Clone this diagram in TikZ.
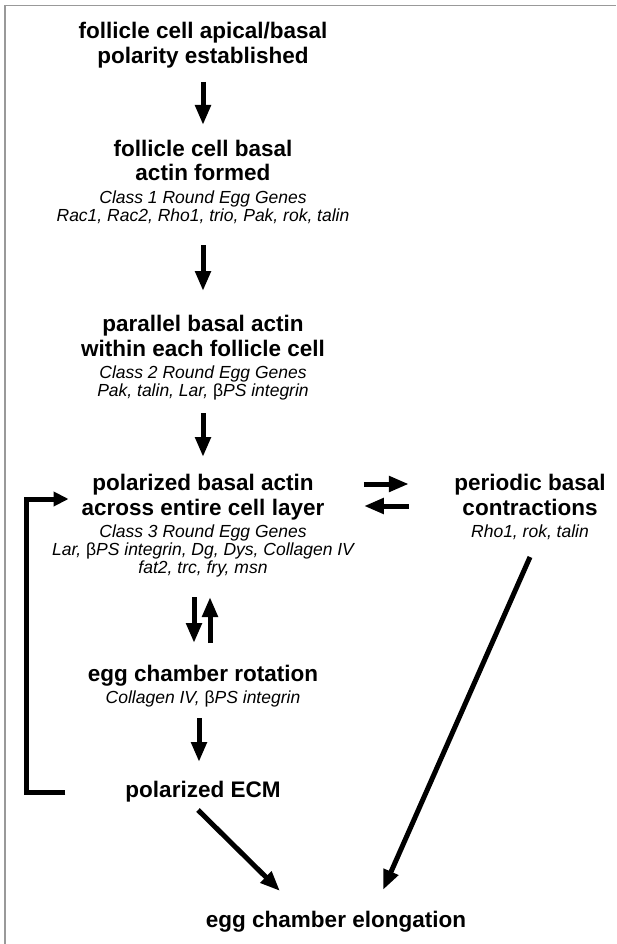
\documentclass[tikz,border=0pt]{standalone}
\usepackage{fontspec}
\setmainfont{Liberation Sans}
\usetikzlibrary{arrows.meta}
\newcommand{\gn}[1]{{\mdseries\itshape\fontsize{17.5}{18}\selectfont\strut #1}}
\newcommand{\tl}[1]{\strut #1}
\newcommand{\bet}{{\upshape β}}
\begin{document}
\begin{tikzpicture}[x=1pt,y=-1pt,
  title/.style={inner sep=0pt, outer sep=0pt, align=center, anchor=north,
    font=\fontsize{22.5}{25}\selectfont\bfseries},
  arr/.style={line width=5pt, -{Triangle[length=20pt,width=15pt]}},
  fb/.style={line width=5pt, -{Triangle[length=15pt,width=14pt]}},
  frame/.style={draw=black!40, line width=1.2pt}]
\useasboundingbox (0,0) rectangle (616,944);
\draw[frame] (5,944) -- (5,5.5) -- (616,5.5);

\node[title] (t1) at (203,21.5) {\tl{follicle cell apical/basal}\\\tl{polarity established}};
\node[title] (t2) at (203,138.5) {\tl{follicle cell basal}\\\tl{actin formed}\\[-3pt]
  \gn{Class 1 Round Egg Genes}\\[-7pt]\gn{Rac1, Rac2, Rho1, trio, Pak, rok, talin}};
\node[title] (t3) at (203,313.5) {\tl{parallel basal actin}\\\tl{within each follicle cell}\\[-3pt]
  \gn{Class 2 Round Egg Genes}\\[-7pt]\gn{Pak, talin, Lar, \bet PS integrin}};
\node[title] (t4) at (203,472.5) {\tl{polarized basal actin}\\\tl{across entire cell layer}\\[-3pt]
  \gn{Class 3 Round Egg Genes}\\[-7pt]\gn{Lar, \bet PS integrin, Dg, Dys, Collagen IV}\\[-7pt]
  \gn{fat2, trc, fry, msn}};
\node[title] (t6) at (530,472.5) {\tl{periodic basal}\\\tl{contractions}\\[-3pt]\gn{Rho1, rok, talin}};
\node[title] (t5) at (203,663.5) {\tl{egg chamber rotation}\\[-3pt]\gn{Collagen IV, \bet PS integrin}};
\node[title] (t7) at (203,779.5) {\tl{polarized ECM}};
\node[title] (t8) at (336,909.5) {\tl{egg chamber elongation}};

\draw[arr, shorten <=10.5pt, shorten >=13.5pt] (t1) -- (t2);
\draw[arr, shorten <=18.6pt, shorten >=22.5pt] (t2) -- (t3);
\draw[arr, shorten <=11.6pt, shorten >=15.5pt] (t3) -- (t4);
\draw[arr, shorten <=18.6pt, shorten >=20.5pt] ([xshift=-9pt]t4.south) -- ([xshift=-9pt]t5.north);
\draw[arr, shorten <=20.5pt, shorten >=18.6pt] ([xshift=7pt]t5.north) -- ([xshift=7pt]t4.south);
\draw[arr, shorten <=9.6pt, shorten >=17.5pt] ([xshift=-4pt]t5.south) -- ([xshift=-4pt]t7.north);
\draw[arr, shorten <=10pt, shorten >=45.5pt] ([yshift=41.45pt]t4.east) -- ([yshift=23.45pt]t6.west);
\draw[arr, shorten <=45.5pt, shorten >=10pt] ([yshift=1.45pt]t6.west) -- ([yshift=19.45pt]t4.east);
\draw[fb] ([shift={(-60,0)}]t7.west) -- ++(-38.5,0) |- ([shift={(16.5,-26.45)}]t4.west);
\draw[arr] ([shift={(-5,5.5)}]t7.south) -- ([shift={(-56,-18.5)}]t8.north);
\draw[arr] ([shift={(0,14.6)}]t6.south) -- ([shift={(47,-19.5)}]t8.north);
\end{tikzpicture}
\end{document}
